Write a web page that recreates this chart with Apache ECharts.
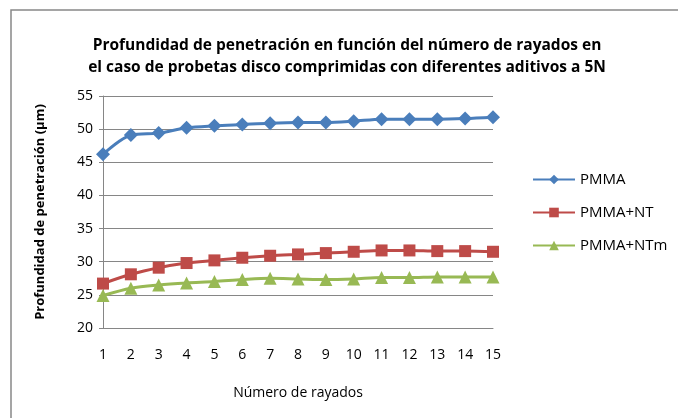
<!DOCTYPE html>
<html>
<head>
<meta charset="utf-8">
<script src="https://cdn.jsdelivr.net/npm/echarts@6/dist/echarts.min.js"></script>
<style>
  html, body { margin: 0; padding: 0; background: #fff; }
  #main { width: 678px; height: 418px; }
</style>
</head>
<body>
<div id="main"></div>
<script>
var rayados = ['1', '2', '3', '4', '5', '6', '7', '8', '9', '10', '11', '12', '13', '14', '15']
var pmma = [46.2, 49.1, 49.4, 50.2, 50.5, 50.7, 50.9, 51.0, 51.0, 51.2, 51.5, 51.5, 51.5, 51.6, 51.8]
var pmmaNT = [26.7, 28.1, 29.1, 29.8, 30.2, 30.6, 30.9, 31.1, 31.3, 31.5, 31.7, 31.7, 31.6, 31.6, 31.5]
var pmmaNTm = [24.9, 26.0, 26.5, 26.8, 27.0, 27.3, 27.5, 27.4, 27.3, 27.4, 27.6, 27.6, 27.7, 27.7, 27.7]

var dom = document.getElementById('main')
var myChart = echarts.init(dom)
var font = 'Open Sans'

function serie(name, data, color, symbol, size) {
  return {
    name: name,
    type: 'line',
    data: data,
    smooth: 0.3,
    symbol: symbol,
    symbolSize: size,
    lineStyle: { color: color, width: 3 },
    itemStyle: { color: color },
  }
}

var option = {
  animation: false,
  title: {
    text: 'Profundidad de penetración en función del número de rayados en\nel caso de probetas disco comprimidas con diferentes aditivos a 5N',
    left: 342,
    top: 30,
    textAlign: 'center',
    textStyle: { fontFamily: font, fontSize: 15.5, fontWeight: 'bold', color: '#000', lineHeight: 22 },
  },
  graphic: [
    {
      // marco del gráfico
      type: 'rect',
      shape: { x: 11, y: 10, width: 700, height: 440 },
      style: { fill: 'none', stroke: '#888', lineWidth: 1.5 },
    },
  ],
  legend: {
    orient: 'vertical',
    left: 527,
    top: 167,
    itemGap: 18,
    itemWidth: 42,
    itemHeight: 12,
    textStyle: { fontFamily: font, fontSize: 15, color: '#000' },
    data: ['PMMA', 'PMMA+NT', 'PMMA+NTm'],
  },
  grid: { left: 103, right: 185, top: 96, bottom: 90 },
  xAxis: {
    type: 'category',
    data: rayados,
    boundaryGap: false,
    name: 'Número de rayados',
    nameLocation: 'middle',
    nameGap: 58,
    nameTextStyle: { fontFamily: font, fontSize: 14, color: '#000' },
    axisLine: { lineStyle: { color: '#868686' } },
    axisTick: { show: false },
    axisLabel: { fontFamily: font, fontSize: 14, color: '#000', margin: 20 },
  },
  yAxis: {
    type: 'value',
    min: 20,
    max: 55,
    interval: 5,
    name: 'Profundidad de penetración (µm)',
    nameLocation: 'middle',
    nameGap: 56,
    nameTextStyle: { fontFamily: font, fontSize: 13, fontWeight: 'bold', color: '#000' },
    axisLine: { show: true, lineStyle: { color: '#868686' } },
    axisTick: { show: true, length: 4, lineStyle: { color: '#868686' } },
    axisLabel: { fontFamily: font, fontSize: 14, color: '#000', margin: 10 },
    splitLine: { lineStyle: { color: '#868686' } },
  },
  series: [
    serie('PMMA', pmma, '#4a7ebb', 'diamond', 14),
    serie('PMMA+NT', pmmaNT, '#be4b48', 'rect', 12),
    serie('PMMA+NTm', pmmaNTm, '#98b954', 'triangle', 13),
  ],
}
myChart.setOption(option, true)
</script>
</body>
</html>
